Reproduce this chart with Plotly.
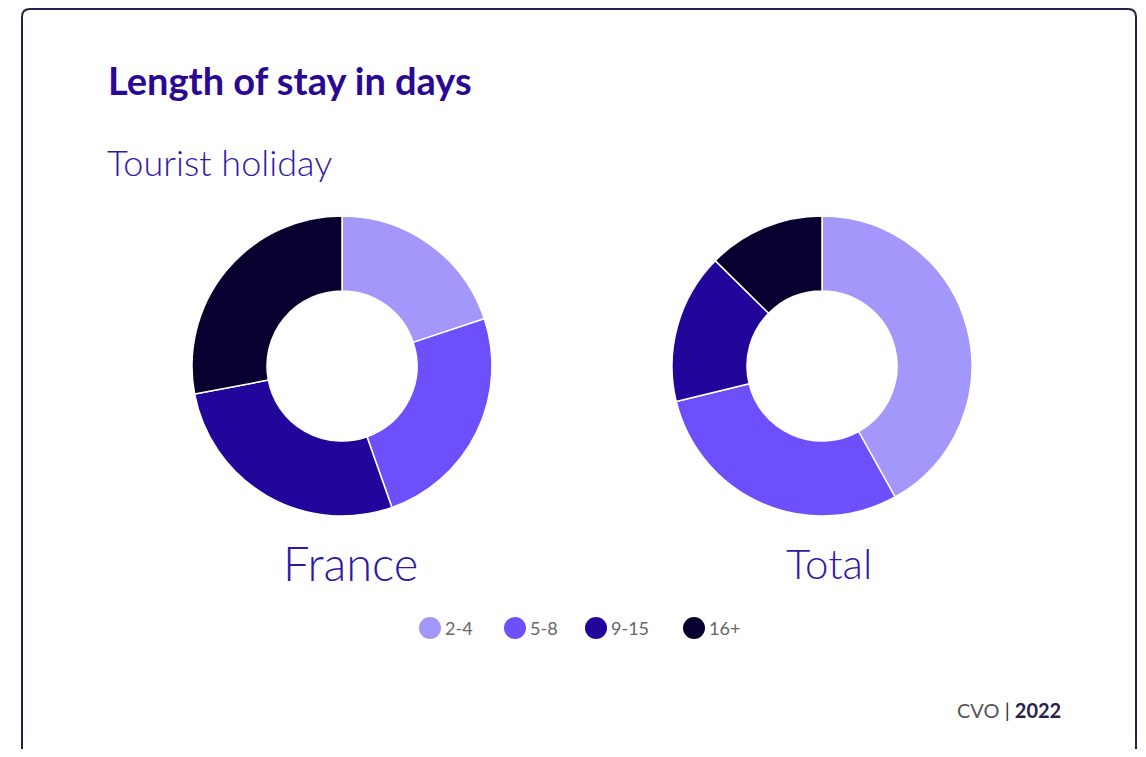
import plotly.graph_objects as go

# the page body has an 8px margin, so the figure is shrunk to fit the window
OFF = 8
W, H = 1146 - 2 * OFF, 757 - 2 * OFF

categories = ["2-4", "5-8", "9-15", "16+"]
france = [19.9, 24.7, 27.4, 28.0]
total = [41.9, 29.3, 16.2, 12.6]
colors = ["#a397fb", "#6e4ffc", "#22059a", "#0a0030"]
legend_x = [430, 515, 596, 694]

TITLE_COLOR = "#2a0894"
FONT = "Lato"


def px_x(x):
    return (x - OFF) / W


def px_y(y):
    return 1 - (y - OFF) / H


fig = go.Figure()

for name, vals, x0, x1 in [("France", france, 192, 492), ("Total", total, 672, 972)]:
    fig.add_trace(
        go.Pie(
            labels=categories,
            values=vals,
            name=name,
            hole=0.5,
            sort=False,
            direction="clockwise",
            rotation=0,
            marker=dict(colors=colors, line=dict(color="white", width=1.5)),
            textinfo="none",
            hoverinfo="label+percent",
            showlegend=False,
            domain=dict(x=[px_x(x0), px_x(x1)], y=[px_y(516), px_y(216)]),
        )
    )

# rounded card border
r = 8
x0, y0, x1, y1 = 22, 9, 1136, 790
path = (
    f"M {px_x(x0)},{px_y(y1)} L {px_x(x0)},{px_y(y0 + r)} "
    f"Q {px_x(x0)},{px_y(y0)} {px_x(x0 + r)},{px_y(y0)} "
    f"L {px_x(x1 - r)},{px_y(y0)} Q {px_x(x1)},{px_y(y0)} {px_x(x1)},{px_y(y0 + r)} "
    f"L {px_x(x1)},{px_y(y1)}"
)
shapes = [
    dict(type="path", path=path, xref="paper", yref="paper",
         line=dict(color="#2b1d4d", width=2))
]

annotations = [
    dict(
        text="<b>Length of stay in days</b>",
        x=px_x(106), y=px_y(80), xanchor="left",
        font=dict(size=38, color=TITLE_COLOR, family=FONT),
    ),
    dict(
        text="Tourist holiday",
        x=px_x(105), y=px_y(162), xanchor="left",
        font=dict(size=36, color="#3318a8", family=FONT, weight=300),
    ),
    dict(
        text="France",
        x=px_x(350), y=px_y(563), xanchor="center",
        font=dict(size=47, color="#3318a8", family=FONT, weight=300),
    ),
    dict(
        text="Total",
        x=px_x(829), y=px_y(563), xanchor="center",
        font=dict(size=42, color="#3318a8", family=FONT, weight=300),
    ),
    dict(
        text="<span style='color:#555555'>CVO</span> <span style='color:#333333'>|</span> <b>2022</b>",
        x=px_x(1063), y=px_y(710), xanchor="right",
        font=dict(size=20, color="#2a2050", family=FONT),
    ),
]

# legend: round markers with labels
for cat, col, lx in zip(categories, colors, legend_x):
    shapes.append(
        dict(type="circle", xref="paper", yref="paper",
             x0=px_x(lx - 11), x1=px_x(lx + 11), y0=px_y(639), y1=px_y(617),
             fillcolor=col, line=dict(width=0))
    )
    annotations.append(
        dict(text=cat, x=px_x(lx + 13), y=px_y(628), xanchor="left",
             font=dict(size=18, color="#666666", family=FONT))
    )

for a in annotations:
    a.update(xref="paper", yref="paper", yanchor="middle", showarrow=False)

fig.update_layout(
    width=W,
    height=H,
    margin=dict(l=0, r=0, t=0, b=0),
    paper_bgcolor="white",
    font=dict(family=FONT),
    shapes=shapes,
    annotations=annotations,
)

fig.write_html("out.html")
